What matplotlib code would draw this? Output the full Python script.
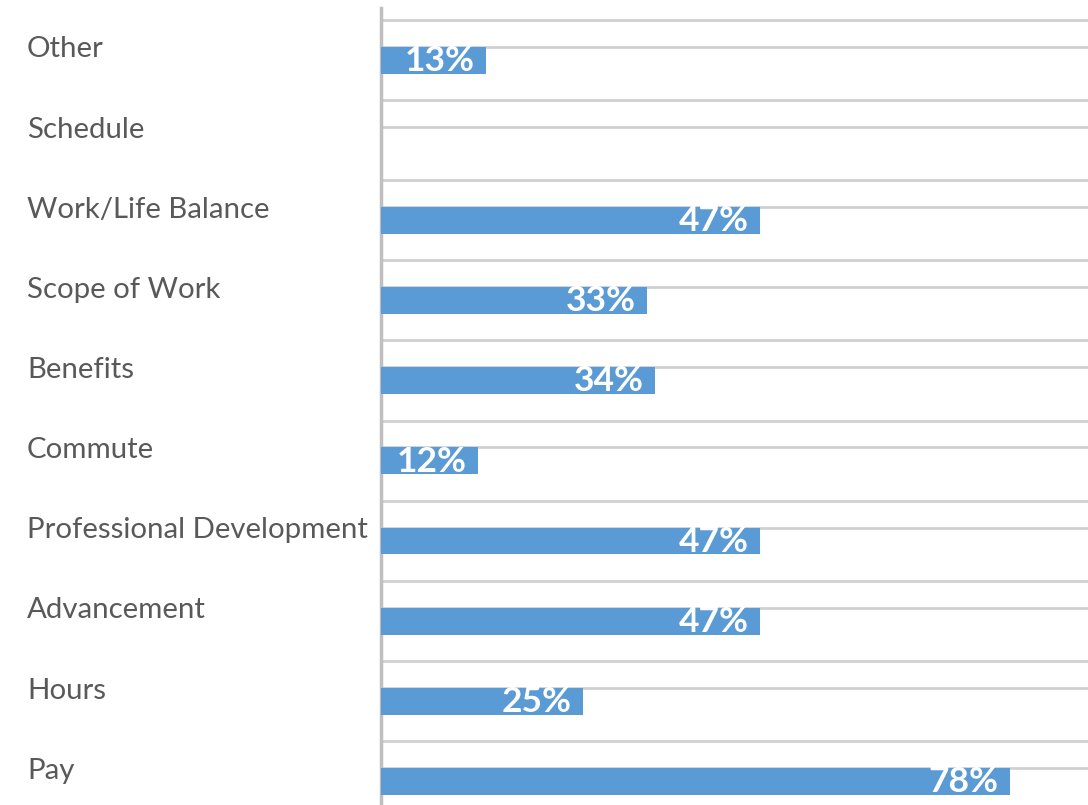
import matplotlib.pyplot as plt
from matplotlib.transforms import blended_transform_factory

categories = ['Other', 'Schedule', 'Work/Life Balance', 'Scope of Work', 'Benefits',
              'Commute', 'Professional Development', 'Advancement', 'Hours', 'Pay']
values = [13, 0, 47, 33, 34, 12, 47, 47, 25, 78]

BLUE = '#5B9BD5'
GRID = '#D0D0D0'
TEXT = '#595959'
plt.rcParams['font.family'] = ['Lato', 'DejaVu Sans']

fig = plt.figure(figsize=(10.88, 8.05), dpi=100)
ax = fig.add_axes([381 / 1088, 0, 1 - 381 / 1088, 1 - 8 / 805])

pos = list(range(len(categories)))
bar_h = 0.335

# bars hang below the category line (empty slot above them)
ax.barh(pos, values, height=bar_h, align='edge', color=BLUE, zorder=3)
for p in pos:
    ax.axhline(p, color=GRID, lw=2, zorder=1)
    ax.axhline(p - bar_h, color=GRID, lw=2, zorder=1)

for p, v in zip(pos, values):
    if v <= 0:
        continue
    ax.annotate(f'{v}%', xy=(v, p + bar_h / 2), xytext=(-8, -0.5),
                textcoords='offset points', ha='right', va='center',
                color='white', fontsize=25.5, fontweight='bold', zorder=4)

trans = blended_transform_factory(fig.transFigure, ax.transData)
for p, c in zip(pos, categories):
    ax.annotate(c, xy=(27 / 1088, p), xycoords=trans, xytext=(0, -2),
                textcoords='offset points', ha='left', va='center',
                fontsize=21.2, color=TEXT)

ax.set_xlim(0, 87.7)
ax.set_ylim((805 - 46.7) / 80.14, (8 - 46.7) / 80.14)
ax.set_xticks([])
ax.set_yticks([])
for side in ['top', 'right', 'bottom']:
    ax.spines[side].set_visible(False)
ax.spines['left'].set_color('#BFBFBF')
ax.spines['left'].set_linewidth(2.5)

fig.savefig('out.png', dpi=100)
